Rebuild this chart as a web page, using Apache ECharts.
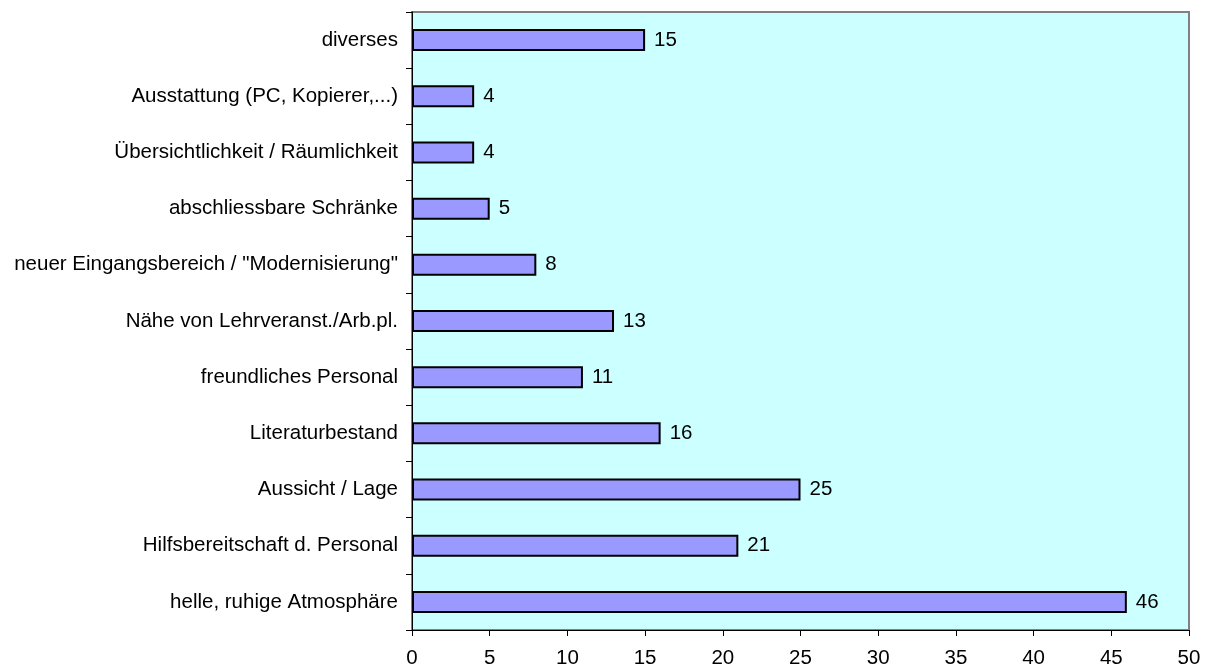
<!DOCTYPE html>
<html><head><meta charset="utf-8">
<script src="https://cdn.jsdelivr.net/npm/echarts@6/dist/echarts.min.js"></script>
<style>html,body{margin:0;padding:0;background:#fff}#c{width:1214px;height:672px}</style>
</head><body><div id="c"></div>
<script>
const categories = ["helle, ruhige Atmosphäre","Hilfsbereitschaft d. Personal","Aussicht / Lage","Literaturbestand","freundliches Personal","Nähe von Lehrveranst./Arb.pl.","neuer Eingangsbereich / \"Modernisierung\"","abschliessbare Schränke","Übersichtlichkeit / Räumlichkeit","Ausstattung (PC, Kopierer,...)","diverses"];
const values = [46,21,25,16,11,13,8,5,4,4,15];
const chart = echarts.init(document.getElementById('c'));
const ff = 'Liberation Sans, Arial, sans-serif';
chart.setOption({
  animation:false,
  grid:{left:412,right:25,top:12,bottom:42,show:true,backgroundColor:'#CCFFFF',borderColor:'#808080',borderWidth:2},
  xAxis:{type:'value',min:0,max:50,interval:5,
    axisLine:{show:true,lineStyle:{color:'#000',width:1}},
    axisTick:{show:true,length:6,lineStyle:{color:'#000'}},
    axisLabel:{color:'#000',fontFamily:ff,fontSize:20.5,margin:18},
    splitLine:{show:false}},
  yAxis:{type:'category',data:categories,
    axisLine:{show:true,lineStyle:{color:'#000',width:1}},
    axisTick:{show:true,length:6,lineStyle:{color:'#000'}},
    axisLabel:{color:'#000',fontFamily:ff,fontSize:20.5,margin:14}},
  series:[{type:'bar',data:values,barWidth:22,
    itemStyle:{color:'#9999FF',borderColor:'#000',borderWidth:2},
    label:{show:true,position:'right',distance:9,color:'#000',fontFamily:ff,fontSize:20.5}}]
});
</script></body></html>
